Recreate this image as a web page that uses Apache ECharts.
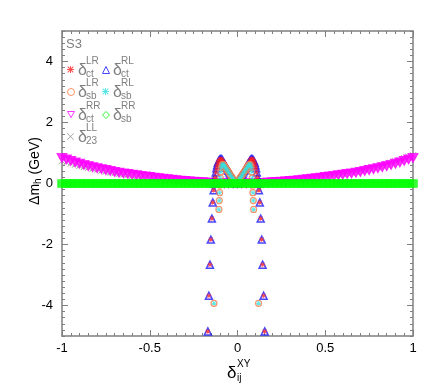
<!DOCTYPE html>
<html><head><meta charset="utf-8">
<script src="https://cdn.jsdelivr.net/npm/echarts@6/dist/echarts.min.js"></script>
<style>html,body{margin:0;padding:0;background:#fff}#c{width:436px;height:387px}</style>
</head><body><div id="c"></div>
<script>
// ---------- data ----------
const xTickLabels = ['-1', '-0.5', '0', '0.5', '1'];
const yTickValues = [-4, -2, 0, 2, 4];

const xGrid = [-1,-0.975,-0.95,-0.925,-0.9,-0.875,-0.85,-0.825,-0.8,-0.775,-0.75,-0.725,-0.7,-0.675,-0.65,-0.625,-0.6,-0.575,-0.55,-0.525,-0.5,-0.475,-0.45,-0.425,-0.4,-0.375,-0.35,-0.325,-0.3,-0.275,-0.25,-0.225,-0.2,-0.175,-0.15,-0.125,-0.1,-0.075,-0.05,-0.025,0,
 0.025,0.05,0.075,0.1,0.125,0.15,0.175,0.2,0.225,0.25,0.275,0.3,0.325,0.35,0.375,0.4,0.425,0.45,0.475,0.5,0.525,0.55,0.575,0.6,0.625,0.65,0.675,0.7,0.725,0.75,0.775,0.8,0.825,0.85,0.875,0.9,0.925,0.95,0.975,1];

// delta_ct^RR (magenta)
const ctRR = [0.84,0.79,0.74,0.69,0.65,0.61,0.57,0.535,0.50,0.47,0.44,0.41,0.38,0.355,0.33,0.31,0.29,0.27,0.25,0.23,0.21,0.19,0.17,0.155,0.14,0.125,0.11,0.095,0.08,0.07,0.06,0.05,0.04,0.03,0.02,0.015,0.01,0.005,0,0,0,
 0,0,0.005,0.01,0.015,0.02,0.03,0.04,0.05,0.06,0.07,0.08,0.095,0.11,0.125,0.14,0.155,0.17,0.19,0.21,0.23,0.25,0.27,0.29,0.31,0.33,0.355,0.38,0.41,0.44,0.47,0.50,0.535,0.57,0.61,0.65,0.69,0.74,0.79,0.84];

// delta_23^LL (grey)
const ll23 = [0.74,0.70,0.66,0.62,0.585,0.55,0.515,0.485,0.455,0.425,0.395,0.37,0.345,0.32,0.30,0.28,0.26,0.245,0.225,0.21,0.19,0.175,0.16,0.145,0.13,0.115,0.10,0.09,0.075,0.065,0.055,0.045,0.035,0.03,0.02,0.015,0.01,0.005,0,0,0,
 0,0,0.005,0.01,0.015,0.025,0.035,0.045,0.055,0.065,0.075,0.09,0.105,0.12,0.14,0.155,0.17,0.19,0.21,0.23,0.25,0.275,0.295,0.32,0.34,0.36,0.39,0.42,0.45,0.48,0.52,0.55,0.59,0.63,0.67,0.72,0.76,0.82,0.87,0.93];

// delta_sb^RR (green)
const sbRR = [0,0,0,0,0,0,0,0,0,0,0,0,0,0,0,0,0,0,0,0,0,0,0,0,0,0,0,0,0,0,0,0,0,0,0,0,0,0,0,0,0,
 0,0,0,0,0,0,0,0,0,0,0,0,0,0,0,0,0,0,0,0,0,0,0,0,0,0,0,0,0,0,0,0,0,0,0,0,0,0,0,0];

// delta_ct^LR (red) : [x, y]
const ctLR = [[-0.169,-4.85],[-0.163,-3.68],[-0.157,-2.66],[-0.152,-1.84],[-0.146,-1.15],[-0.141,-0.62],[-0.136,-0.22],[-0.132,0.0],[-0.128,0.2],[-0.124,0.36],[-0.120,0.5],[-0.116,0.6],[-0.112,0.68],[-0.107,0.74],[-0.102,0.78],[-0.097,0.8],[-0.092,0.8],[-0.087,0.77],[-0.082,0.72],[-0.077,0.67],[-0.072,0.62],[-0.067,0.57],[-0.062,0.52],[-0.057,0.47],[-0.052,0.42],[-0.047,0.37],[-0.042,0.32],[-0.037,0.27],[-0.032,0.22],[-0.027,0.17],[-0.022,0.12],[-0.017,0.07],[-0.012,0.03],[-0.007,0.0],
 [-0.002,0.03],[0.003,0.07],[0.008,0.12],[0.013,0.17],[0.018,0.22],[0.023,0.27],[0.028,0.32],[0.033,0.37],[0.038,0.42],[0.043,0.47],[0.048,0.52],[0.053,0.57],[0.058,0.62],[0.063,0.67],[0.068,0.72],[0.073,0.77],[0.078,0.8],[0.083,0.8],[0.088,0.78],[0.093,0.74],[0.098,0.68],[0.102,0.6],[0.106,0.5],[0.110,0.36],[0.114,0.2],[0.118,0.0],[0.122,-0.22],[0.127,-0.62],[0.132,-1.15],[0.138,-1.84],[0.143,-2.66],[0.149,-3.68],[0.155,-4.85]];
// delta_ct^RL (blue) reads the same as delta_ct^LR
const ctRL = ctLR.map(p => [p[0], p[1]]);

// delta_sb^RL (cyan)
const sbRL = [[-0.134,-3.93],[-0.106,-0.85],[-0.104,-0.56],[-0.102,-0.3],[-0.100,-0.05],[-0.098,0.18],[-0.095,0.38],[-0.092,0.52],[-0.088,0.6],[-0.084,0.63],[-0.080,0.62],[-0.075,0.58],[-0.070,0.54],[-0.065,0.49],[-0.060,0.45],[-0.055,0.41],[-0.050,0.36],[-0.045,0.32],[-0.040,0.27],[-0.035,0.23],[-0.030,0.19],[-0.025,0.14],[-0.020,0.10],[-0.015,0.06],[-0.010,0.02],
 [-0.004,0.02],[0.001,0.06],[0.006,0.10],[0.011,0.14],[0.016,0.19],[0.021,0.23],[0.026,0.27],[0.031,0.32],[0.036,0.36],[0.041,0.41],[0.046,0.45],[0.051,0.49],[0.056,0.54],[0.061,0.58],[0.066,0.62],[0.070,0.63],[0.074,0.6],[0.078,0.52],[0.081,0.38],[0.084,0.18],[0.086,-0.05],[0.088,-0.3],[0.090,-0.56],[0.092,-0.85],[0.120,-3.93]];
// delta_sb^LR (orange) reads the same as delta_sb^RL
const sbLR = sbRL.map(p => [p[0], p[1]]);

// ---------- chart ----------
const GREY = '#7f7f7f';
const FONT = 'Liberation Sans, Arial, sans-serif';
const asterisk = 'path://M4.3,0H5.7V10H4.3Z M0,4.3H10V5.7H0Z M0.5,1.5L1.5,0.5L9.5,8.5L8.5,9.5Z M8.5,0.5L9.5,1.5L1.5,9.5L0.5,8.5Z';
const cross = 'path://M0.7,0L10,9.3L9.3,10L0,0.7Z M9.3,0L10,0.7L0.7,10L0,9.3Z';
const downTri = 'path://M0,0L10,0L5,8.66Z';
const hollow = (c, w) => ({ color: 'rgba(0,0,0,0)', borderColor: c, borderWidth: w });

const smooth = arr => xGrid.map((x, i) => [x, arr[i]]);

const series = [
  { name: 'll23', data: smooth(ll23), symbol: cross, symbolSize: 7, itemStyle: { color: '#8a8a8a' } },
  { name: 'ctRR', data: smooth(ctRR), symbol: downTri, symbolSize: [10, 9], itemStyle: { color: '#ff00ff', borderColor: '#ff00ff', borderWidth: 1 } },
  { name: 'ctRL', data: ctRL, symbol: 'triangle', symbolSize: [7, 7], itemStyle: hollow('#1a1aff', 1.5) },
  { name: 'ctLR', data: ctLR, symbol: asterisk, symbolSize: 5, itemStyle: { color: '#ff2020' } },
  { name: 'sbLR', data: sbLR, symbol: 'circle', symbolSize: 6, itemStyle: hollow('#ff7744', 1.2) },
  { name: 'sbRL', data: sbRL, symbol: asterisk, symbolSize: 5, itemStyle: { color: '#33e0e0' } },
  { name: 'sbRR', data: smooth(sbRR), symbol: 'rect', symbolSize: [9, 8], itemStyle: { color: '#00ff00', borderColor: '#00ff00', borderWidth: 0.5 } }
].map(s => Object.assign({ type: 'scatter', animation: false, silent: true }, s));

const legendPos = [
  ['ctLR', 67, 66, null, null], ['ctRL', 102, 66, hollow('#1a1aff', 1), 'triangle'],
  ['sbLR', 67, 88, hollow('#ff7744', 1), null], ['sbRL', 102, 88, null, null],
  ['ctRR', 67, 111, hollow('#ff00ff', 1), null], ['sbRR', 102, 111, hollow('#00ee00', 1), 'diamond'],
  ['ll23', 67, 133, null, null]
];
const legends = legendPos.map(([n, l, t, st, icon]) => {
  const o = { data: [n], left: l, top: t, padding: 0, itemWidth: 7, itemHeight: 7, itemGap: 0,
    selectedMode: false, formatter: () => '', textStyle: { fontSize: 1 } };
  if (st) o.itemStyle = st;
  if (icon) o.icon = icon;
  return o;
});

const legendLabels = [
  ['ct', 'LR', 78, 70], ['ct', 'RL', 113, 70],
  ['sb', 'LR', 78, 92], ['sb', 'RL', 113, 92],
  ['ct', 'RR', 78, 115], ['sb', 'RR', 113, 115],
  ['23', 'LL', 78, 137]
];
const txt = (x, y, text, size, color, align, extra) => Object.assign({
  type: 'text', x: x, y: y, silent: true,
  style: { text: text, fill: color, font: size + 'px ' + FONT, align: align || 'left', verticalAlign: 'middle',
           textAlign: align || 'left', textVerticalAlign: 'middle' }
}, extra || {});
const graphics = [txt(66, 44, 'S3', 13, GREY)];
legendLabels.forEach(([sub, sup, x, y]) => {
  graphics.push(txt(x, y + 1, 'δ', 16, GREY));
  graphics.push(txt(x + 8, y - 9, sup, 10, GREY));
  graphics.push(txt(x + 8, y + 4, sub, 10, GREY));
});
// x-axis title
graphics.push(txt(227, 373, 'δ', 17, '#000'));
graphics.push(txt(237, 364, 'XY', 10, '#000'));
graphics.push(txt(237, 378, 'ij', 10, '#000'));
// y-axis title
graphics.push({
  type: 'text', x: 35, y: 171, rotation: Math.PI / 2, silent: true,
  style: {
    text: '{a|Δm}{b|h}{a| (GeV)}', align: 'center', verticalAlign: 'middle',
    textAlign: 'center', textVerticalAlign: 'middle',
    rich: { a: { fontSize: 14, fontFamily: FONT, color: '#000' },
            b: { fontSize: 10, fontFamily: FONT, color: '#000', verticalAlign: 'bottom', padding: [6, 0, 0, 0] } }
  }
});

const line = { show: true, onZero: false, lineStyle: { color: GREY, width: 1.5 } };
const xBase = (pos, labels) => ({
  type: 'value', position: pos, min: -1, max: 1, interval: 0.5,
  axisLine: line, splitLine: { show: false },
  axisTick: { show: true, inside: true, length: 6, lineStyle: { color: GREY } },
  minorTick: { show: true, splitNumber: 10, length: 3, lineStyle: { color: GREY } },
  axisLabel: labels ? { show: true, color: '#000', fontSize: 13, fontFamily: FONT, margin: 6,
    formatter: v => xTickLabels[Math.round((v + 1) / 0.5)] } : { show: false }
});
const ySmall = (pos, labels) => ({
  type: 'value', position: pos, min: -5, max: 5, interval: 1,
  axisLine: line, splitLine: { show: false },
  axisTick: { show: true, inside: true, length: 3, lineStyle: { color: GREY } },
  minorTick: { show: true, splitNumber: 5, length: 3, lineStyle: { color: GREY } },
  axisLabel: labels ? { show: true, color: '#000', fontSize: 13, fontFamily: FONT, margin: 9,
    customValues: yTickValues, formatter: v => String(v) } : { show: false }
});
const yLong = pos => ({
  type: 'value', position: pos, min: -5, max: 5, interval: 1,
  axisLine: { show: false, onZero: false }, splitLine: { show: false }, axisLabel: { show: false },
  axisTick: { show: true, inside: true, length: 6, customValues: yTickValues, lineStyle: { color: GREY } }
});

const chart = echarts.init(document.getElementById('c'), null, { renderer: 'canvas' });
chart.setOption({
  animation: false,
  backgroundColor: '#fff',
  grid: { left: 62, right: 23, top: 31, bottom: 51 },
  xAxis: [xBase('bottom', true), xBase('top', false)],
  yAxis: [ySmall('left', true), yLong('left'), ySmall('right', false), yLong('right')],
  legend: legends,
  series: series,
  graphic: graphics
});
</script>
</body></html>
